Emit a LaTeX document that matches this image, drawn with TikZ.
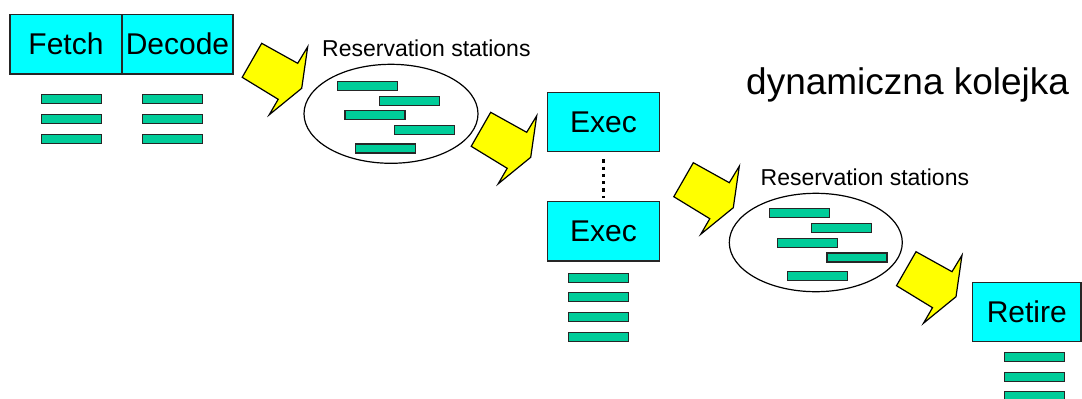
\documentclass[tikz,border=0pt]{standalone}
\usepackage{fontspec}
\setmainfont{Liberation Sans}
\usetikzlibrary{shapes.geometric}
\definecolor{boxcyan}{RGB}{0,255,255}
\definecolor{bargreen}{RGB}{0,204,153}
\definecolor{arrowyellow}{RGB}{255,255,0}
\begin{document}
\begin{tikzpicture}[x=1pt,y=-1pt,
  stage/.style={draw=black!85, line width=1.3pt, fill=boxcyan, inner sep=0pt,
    font=\fontsize{30}{36}\selectfont},
  bar/.style={draw=black!85, line width=1.3pt, fill=bargreen, minimum width=60pt,
    minimum height=9pt, inner sep=0pt},
  station/.style={draw=black, line width=1.2pt, ellipse, inner sep=0pt},
  rslabel/.style={font=\fontsize{23}{28}\selectfont, anchor=base west, inner sep=0pt},
  dotline/.style={line width=3.3pt, dash pattern=on 3.3pt off 4pt},
  blockarr/.pic={\draw[fill=arrowyellow, draw=black, line width=1.2pt, line join=miter]
    (0,0) -- (36,20) -- (46,3.5) -- (40,45) -- (7.5,71.5) -- (16.5,56) -- (-19.5,34) -- cycle;}
]
\useasboundingbox (0,0) rectangle (1082,399);
\clip (0,0) rectangle (1082,399);

% Fetch / Decode
\node[stage, minimum width=112pt, minimum height=59.7pt] (fetch) at (66,44.2) {Fetch};
\node[stage, minimum width=111pt, minimum height=59.7pt] (decode) at (177.5,44.2) {Decode};
\node[bar] (f1) at (71.3,99.3) {};
\node[bar] (f2) at (71.3,119.3) {};
\node[bar] (f3) at (71.3,138.7) {};
\node[bar] (d1) at (172.5,99.3) {};
\node[bar] (d2) at (172.5,119.3) {};
\node[bar] (d3) at (172.5,138.7) {};

% arrows
\pic at (261.7,43.3) {blockarr};
\pic at (490.7,112.3) {blockarr};
\pic at (693.3,162.7) {blockarr};
\pic at (916,251.7) {blockarr};

% Reservation stations 1
\node[rslabel] (rs1label) at (322,56.5) {Reservation stations};
\node[station, minimum width=174pt, minimum height=99pt] (rs1) at (391,113.8) {};
\node[bar] (r1a) at (367.2,85.8) {};
\node[bar] (r1b) at (409.7,101) {};
\node[bar] (r1c) at (375,115.3) {};
\node[bar] (r1d) at (424.5,130.3) {};
\node[bar] (r1e) at (385.3,148.5) {};

% Exec
\node[stage, minimum width=111.6pt, minimum height=59.4pt] (exec1) at (603.5,122) {Exec};
\node[stage, minimum width=111.6pt, minimum height=59.4pt] (exec2) at (603.5,231.3) {Exec};
\draw[dotline, shorten <=6.9pt, shorten >=3.3pt] (exec1.south) -- (exec2.north);
\node[bar] (e1) at (598.2,277.7) {};
\node[bar] (e2) at (598.2,297) {};
\node[bar] (e3) at (598.2,317.3) {};
\node[bar] (e4) at (598.2,336.7) {};

% Reservation stations 2
\node[rslabel] (rs2label) at (760.5,185.5) {Reservation stations};
\node[station, minimum width=173pt, minimum height=98.4pt] (rs2) at (815.8,242.5) {};
\node[bar] (r2a) at (799.7,213.3) {};
\node[bar] (r2b) at (841.7,227.8) {};
\node[bar] (r2c) at (807.7,242.8) {};
\node[bar] (r2d) at (857,257.5) {};
\node[bar] (r2e) at (817.8,275.7) {};

% Retire
\node[stage, minimum width=108.3pt, minimum height=59.2pt] (retire) at (1026.8,311.9) {Retire};
\node[bar] (t1) at (1034.2,357) {};
\node[bar] (t2) at (1034.2,376.7) {};
\node[bar] (t3) at (1034.2,396) {};

% title
\node[anchor=base west, inner sep=0pt, font=\fontsize{37}{44}\selectfont] (title) at (746,94.5)
  {dynamiczna kolejka};
\end{tikzpicture}
\end{document}
